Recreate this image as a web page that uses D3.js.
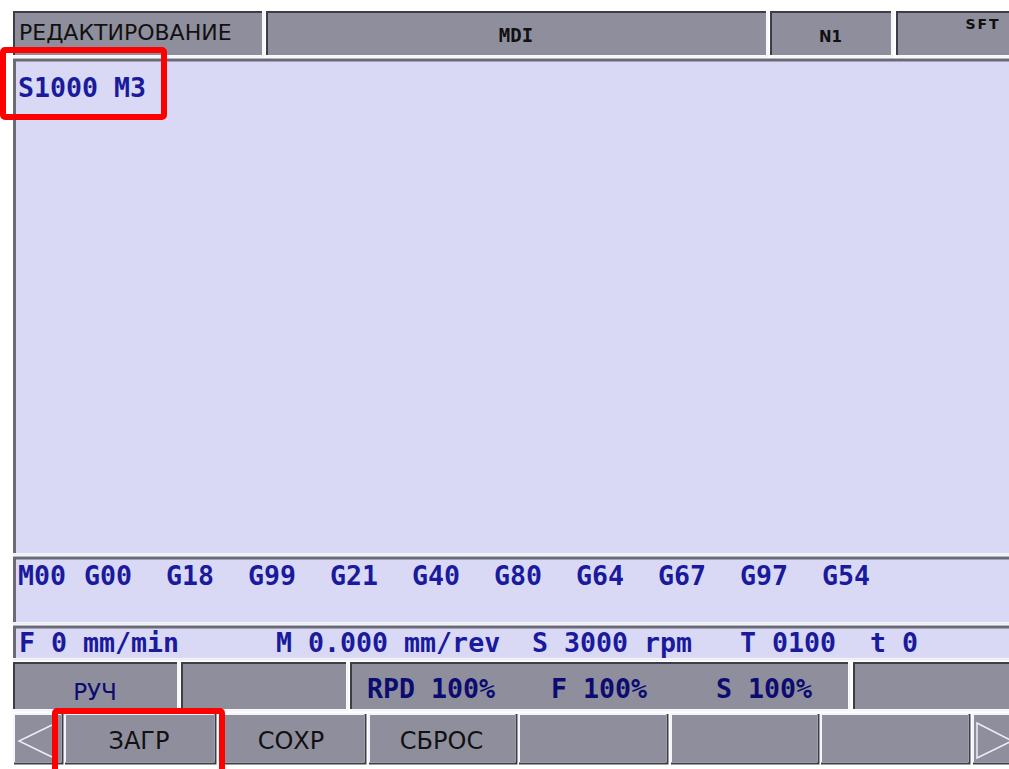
<!DOCTYPE html>
<html>
<head>
<meta charset="utf-8">
<script src="https://cdn.jsdelivr.net/npm/d3@7"></script>
<style>
  html, body { margin: 0; padding: 0; background: #fff; }
  svg { display: block; }
</style>
</head>
<body>
<svg width="1009" height="769"></svg>
<script>
// screen content
const headerLabels = ['РЕДАКТИРОВАНИЕ', 'MDI', 'N1', 'SFT'];
const programLines = ['S1000 M3'];
const modalState = 'M00';
const modalCodes = ['G00', 'G18', 'G99', 'G21', 'G40', 'G80', 'G64', 'G67', 'G97', 'G54'];
const feedFields = ['F 0 mm/min', 'M 0.000 mm/rev', 'S 3000 rpm', 'T 0100', 't 0'];
const modeLabel = 'РУЧ';
const overrideFields = ['RPD 100%', 'F 100%', 'S 100%'];
const softKeys = ['ЗАГР', 'СОХР', 'СБРОС', '', '', ''];

// layout
const W = 1009;
const grey = '#8f8e9d';
const lav = '#d9d9f5';
const dark = '#3d3d48';
const blue = '#1a1a9c';
const navy = '#0c0c70';
const mono = '"DejaVu Sans Mono", monospace';
const sans = '"DejaVu Sans", sans-serif';
const monoSize = 26.6;

const svg = d3.select('svg');

const headerX = d3.scaleOrdinal().domain(headerLabels)
  .range([[13, 262], [266, 766], [770, 891], [896, 1014]]);
const statusX = [[13, 177], [181, 346], [350, 848], [853, 1014]];
const keyX = [[64, 214], [218, 364], [368, 515], [518, 666], [670, 817], [820, 968]];
const codeX = d3.scaleLinear().domain([0, modalCodes.length - 1])
  .range([84, 84 + 82 * (modalCodes.length - 1)]);
const feedX = d3.scaleOrdinal().domain(feedFields).range([19, 276, 532, 740, 870]);
const overrideX = d3.scaleOrdinal().domain(overrideFields).range([367, 551, 716]);

function cell(g, x0, x1, y0, y1, raised) {
  g.append('rect')
    .attr('x', x0).attr('y', y0)
    .attr('width', x1 - x0).attr('height', y1 - y0)
    .attr('fill', grey);
  // bevel lines
  const hi = '#f4f4fa';
  const tl = raised ? hi : dark;
  const br = raised ? dark : hi;
  g.append('path').attr('d', `M${x0 + 1},${y1} V${y0 + 1} H${x1}`)
    .attr('fill', 'none').attr('stroke', tl).attr('stroke-width', 2);
  g.append('path').attr('d', `M${x0 + 1},${y1 + 1.5} H${x1 + 1.5} V${y0 + 1}`)
    .attr('fill', 'none').attr('stroke', br).attr('stroke-width', 2);
}

function panel(y0, y1) {
  svg.append('rect')
    .attr('x', 13).attr('y', y0)
    .attr('width', W - 13).attr('height', y1 - y0)
    .attr('fill', lav);
  svg.append('path').attr('d', `M14.5,${y1} V${y0 + 1} H${W}`)
    .attr('fill', 'none').attr('stroke', '#6a6a78').attr('stroke-width', 3);
  svg.append('line')
    .attr('x1', 13).attr('x2', W)
    .attr('y1', y1 + 1.5).attr('y2', y1 + 1.5)
    .attr('stroke', '#ececf6').attr('stroke-width', 2);
}

function monoText(g, x, y, fill, s) {
  return g.append('text')
    .attr('x', x).attr('y', y)
    .attr('font-family', mono).attr('font-weight', 'bold').attr('font-size', monoSize)
    .attr('fill', fill)
    .style('white-space', 'pre')
    .text(s);
}

// header row
const header = svg.append('g');
headerLabels.forEach((d) => {
  const [x0, x1] = headerX(d);
  cell(header, x0, x1, 11, 55, false);
});
header.append('text')
  .attr('x', 19).attr('y', 40)
  .attr('font-family', sans).attr('font-size', 22)
  .attr('fill', '#111')
  .text(headerLabels[0]);
header.append('text')
  .attr('x', d3.mean(headerX(headerLabels[1]))).attr('y', 42)
  .attr('text-anchor', 'middle')
  .attr('font-family', mono).attr('font-weight', 'bold').attr('font-size', 19)
  .attr('fill', '#111')
  .text(headerLabels[1]);
header.append('text')
  .attr('x', d3.mean(headerX(headerLabels[2]))).attr('y', 42)
  .attr('text-anchor', 'middle')
  .attr('font-family', sans).attr('font-weight', 'bold').attr('font-size', 15)
  .attr('fill', '#111')
  .text(headerLabels[2]);
header.append('text')
  .attr('x', 983).attr('y', 29)
  .attr('text-anchor', 'middle')
  .attr('font-family', sans).attr('font-weight', 'bold').attr('font-size', 14)
  .attr('letter-spacing', 2)
  .attr('fill', '#111')
  .text(headerLabels[3]);

// program / modal / feed panels
panel(59, 553);
panel(557, 622);
panel(626, 658);

programLines.forEach((d, i) => {
  monoText(svg, 18, 97 + i * 34, blue, d);
});

const modal = svg.append('g');
monoText(modal, 18, 585, blue, modalState);
modal.selectAll('text.code')
  .data(modalCodes)
  .enter()
  .append('text')
  .attr('class', 'code')
  .attr('x', (d, i) => codeX(i)).attr('y', 585)
  .attr('font-family', mono).attr('font-weight', 'bold').attr('font-size', monoSize)
  .attr('fill', blue)
  .text(d => d);

svg.append('g').selectAll('text')
  .data(feedFields)
  .enter()
  .append('text')
  .attr('x', d => feedX(d)).attr('y', 652)
  .attr('font-family', mono).attr('font-weight', 'bold').attr('font-size', monoSize)
  .attr('fill', blue)
  .style('white-space', 'pre')
  .text(d => d);

// status row
const status = svg.append('g');
statusX.forEach(([x0, x1]) => {
  cell(status, x0, x1, 662, 709, false);
});
status.append('text')
  .attr('x', d3.mean(statusX[0])).attr('y', 700)
  .attr('text-anchor', 'middle')
  .attr('font-family', sans).attr('font-size', 23)
  .attr('fill', navy)
  .text(modeLabel);
status.selectAll('text.ovr')
  .data(overrideFields)
  .enter()
  .append('text')
  .attr('class', 'ovr')
  .attr('x', d => overrideX(d)).attr('y', 698)
  .attr('font-family', mono).attr('font-weight', 'bold').attr('font-size', monoSize)
  .attr('fill', navy)
  .style('white-space', 'pre')
  .text(d => d);

// soft keys with page arrows at both ends
const keys = svg.append('g');
cell(keys, 13, 61, 713, 762, true);
cell(keys, 972, 1014, 713, 762, true);
softKeys.forEach((d, i) => {
  const [x0, x1] = keyX[i];
  cell(keys, x0, x1, 713, 762, true);
});
keys.selectAll('text')
  .data(softKeys)
  .enter()
  .append('text')
  .attr('x', (d, i) => d3.mean(keyX[i]))
  .attr('y', 749)
  .attr('text-anchor', 'middle')
  .attr('font-family', sans).attr('font-size', 24)
  .attr('fill', '#111')
  .text(d => d);
keys.append('path')
  .attr('d', 'M52,725 L19,741 L52,757')
  .attr('fill', 'none').attr('stroke', '#eeeef6').attr('stroke-width', 1.5);
keys.append('path')
  .attr('d', 'M977,758 V723 L1012,741 Z')
  .attr('fill', 'none').attr('stroke', '#eeeef6').attr('stroke-width', 1.5);

// red highlight boxes
const marks = [[3, 50, 164, 117], [55, 711, 222, 775]];
svg.selectAll('rect.mark')
  .data(marks)
  .enter()
  .append('rect')
  .attr('class', 'mark')
  .attr('x', d => d[0]).attr('y', d => d[1])
  .attr('width', d => d[2] - d[0]).attr('height', d => d[3] - d[1])
  .attr('rx', 2)
  .attr('fill', 'none')
  .attr('stroke', '#ff0000').attr('stroke-width', 6);
</script>
</body>
</html>
